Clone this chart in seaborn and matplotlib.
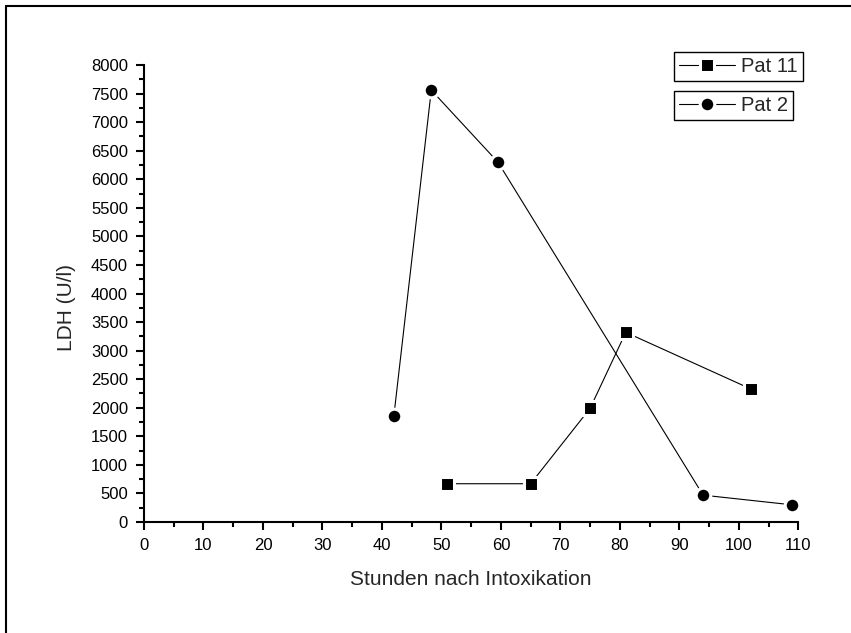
import matplotlib
matplotlib.use("Agg")
import matplotlib.pyplot as plt
from matplotlib.lines import Line2D
from matplotlib.ticker import MultipleLocator
import seaborn as sns
import pandas as pd

# Data
pat11_hours = [51, 65, 75, 81, 102]
pat11_ldh = [670, 670, 1990, 3320, 2330]
pat2_hours = [42, 48.3, 59.5, 94, 109]
pat2_ldh = [1850, 7560, 6300, 470, 300]
series_labels = ["Pat 11", "Pat 2"]
x_label = "Stunden nach Intoxikation"
y_label = "LDH (U/l)"

sns.set_style("ticks")
plt.rcParams["font.family"] = ["Liberation Sans", "DejaVu Sans"]

fig = plt.figure(figsize=(8.51, 6.33), dpi=100)
ax = fig.add_axes([144 / 851, 1 - 522 / 633, 654.3 / 851, 457 / 633])

df11 = pd.DataFrame({"h": pat11_hours, "ldh": pat11_ldh})
df2 = pd.DataFrame({"h": pat2_hours, "ldh": pat2_ldh})

sq_style = dict(marker="s", markersize=9.5, markeredgewidth=2.2,
                markeredgecolor="white", markerfacecolor="black")
ci_style = dict(marker="o", markersize=10.5, markeredgewidth=2.2,
                markeredgecolor="white", markerfacecolor="black")

sns.lineplot(data=df11, x="h", y="ldh", ax=ax, color="black", lw=0.8,
             legend=False, **sq_style)
sns.lineplot(data=df2, x="h", y="ldh", ax=ax, color="black", lw=0.8,
             legend=False, **ci_style)

ax.set_xlim(0, 110)
ax.set_ylim(0, 8000)
ax.xaxis.set_major_locator(MultipleLocator(10))
ax.xaxis.set_minor_locator(MultipleLocator(5))
ax.yaxis.set_major_locator(MultipleLocator(500))
ax.yaxis.set_minor_locator(MultipleLocator(250))

for side in ["top", "right"]:
    ax.spines[side].set_visible(False)
for side in ["left", "bottom"]:
    ax.spines[side].set_linewidth(1.5)
    ax.spines[side].set_color("black")

ax.tick_params(which="major", direction="out", length=5.5, width=1.5,
               labelsize=12, pad=6, colors="black")
ax.tick_params(which="minor", direction="out", length=3.5, width=1.5,
               colors="black")

ax.set_xlabel(x_label, fontsize=15, labelpad=12)
ax.set_ylabel(y_label, fontsize=15)
ax.yaxis.set_label_coords(-0.104, 0.47)

h11 = Line2D([], [], color="black", lw=0.8, **sq_style)
h2 = Line2D([], [], color="black", lw=0.8, **ci_style)

common = dict(loc="upper left", fontsize=14.5, fancybox=False, framealpha=1,
              edgecolor="black", borderaxespad=0, handlelength=2.8,
              handletextpad=0.3, borderpad=0.25, frameon=True)
leg1 = ax.legend([h11], [series_labels[0]], bbox_to_anchor=(0.810, 1.028), **common)
leg1.get_frame().set_linewidth(1.0)
ax.add_artist(leg1)
leg2 = ax.legend([h2], [series_labels[1]], bbox_to_anchor=(0.810, 0.944), **common)
leg2.get_frame().set_linewidth(1.0)

# Figure border (top and left visible)
fig.add_artist(Line2D([6 / 851, 1.0], [1 - 6 / 633, 1 - 6 / 633], transform=fig.transFigure,
                      color="black", lw=1.5))
fig.add_artist(Line2D([6 / 851, 6 / 851], [0, 1 - 6 / 633], transform=fig.transFigure,
                      color="black", lw=1.5))

fig.savefig("out.png", dpi=100)
